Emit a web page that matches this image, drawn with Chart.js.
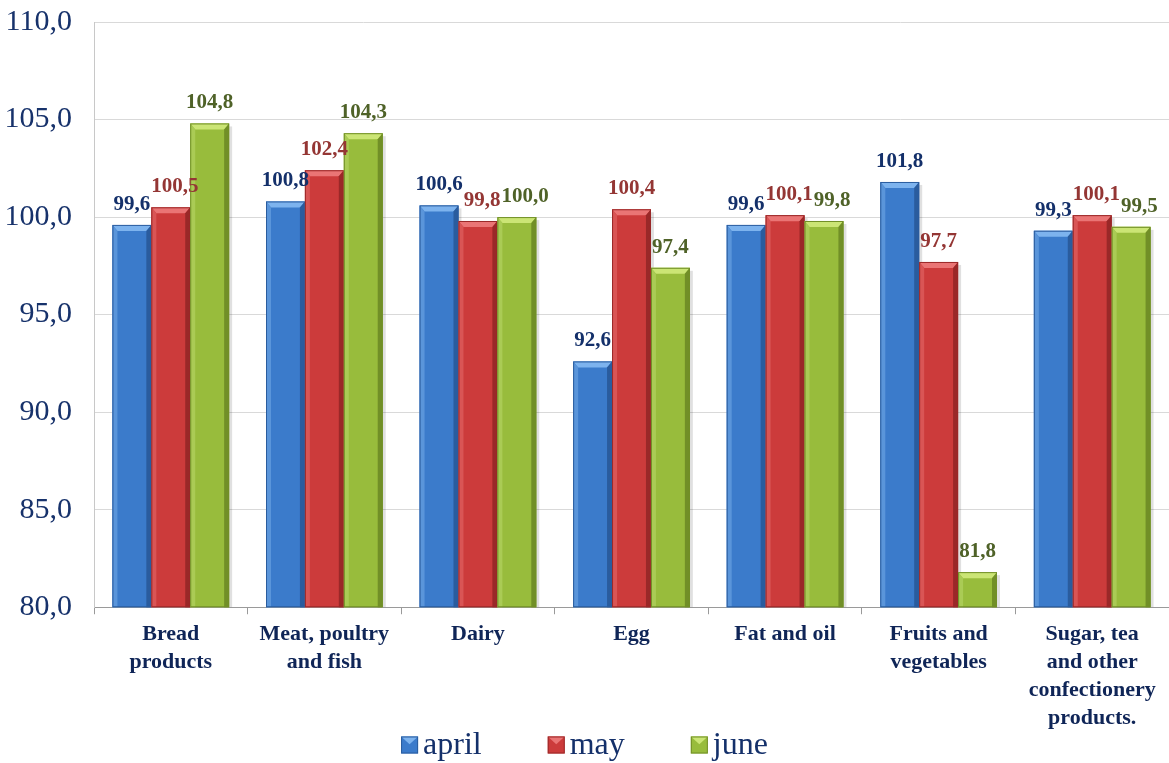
<!DOCTYPE html>
<html>
<head>
<meta charset="utf-8">
<script src="https://cdn.jsdelivr.net/npm/chart.js@4.4.1/dist/chart.umd.min.js"></script>
<style>
html,body{margin:0;padding:0;background:#fff;}
#wrap{width:1169px;height:763px;position:relative;}
</style>
</head>
<body>
<div id="wrap"><canvas id="c" width="1169" height="763"></canvas></div>
<script>
const categories = [
  ["Bread","products"],
  ["Meat, poultry","and fish"],
  ["Dairy"],
  ["Egg"],
  ["Fat and oil"],
  ["Fruits and","vegetables"],
  ["Sugar, tea","and other","confectionery","products."]
];
const seriesNames = ["april","may","june"];
const aprilValues = [99.6, 100.8, 100.6, 92.6, 99.6, 101.8, 99.3];
const mayValues   = [100.5, 102.4, 99.8, 100.4, 100.1, 97.7, 100.1];
const juneValues  = [104.8, 104.3, 100.0, 97.4, 99.8, 81.8, 99.5];
const yMin = 80, yMax = 110, yStep = 5;

const barColors = [
  {base:'#3B7BCB', top:'#7DB3EE', left:'#5A95DA', right:'#2A5C9E'},
  {base:'#CC3B3B', top:'#EA7575', left:'#D95555', right:'#9A2828'},
  {base:'#98BC3C', top:'#CBE575', left:'#AACB55', right:'#718F27'}
];
const labelColors = ['#14306A','#943634','#4F6228'];
const legendTextColor = '#14306A';
const serif = "'Liberation Serif','Times New Roman',serif";

function fmt(v){ return v.toFixed(1).replace('.',','); }

const bevelPlugin = {
  id:'bevel',
  beforeDatasetsDraw(chart){
    const ctx = chart.ctx, area = chart.chartArea;
    ctx.save();
    ctx.beginPath(); ctx.rect(area.left, area.top - 20, area.right - area.left + 10, area.bottom - area.top + 20); ctx.clip();
    chart.data.datasets.forEach((ds,di)=>{
      chart.getDatasetMeta(di).data.forEach(el=>{
        const l = el.x - el.width/2, r = el.x + el.width/2, t = el.y, b = Math.min(el.base, area.bottom);
        ctx.fillStyle = 'rgba(0,0,0,0.12)';
        ctx.fillRect(l+3, t+3, r-l, b-t-3);
      });
    });
    ctx.restore();
  },
  afterDatasetsDraw(chart){
    const ctx = chart.ctx, area = chart.chartArea;
    chart.data.datasets.forEach((ds,di)=>{
      const meta = chart.getDatasetMeta(di);
      const c = barColors[di];
      meta.data.forEach(el=>{
        const l = el.x - el.width/2, r = el.x + el.width/2, t = el.y, b = Math.min(el.base, area.bottom);
        const h = b - t, bw = Math.min(6, h/2), sw = 5;
        ctx.save();
        ctx.fillStyle = c.top;
        ctx.beginPath(); ctx.moveTo(l,t); ctx.lineTo(r,t); ctx.lineTo(r-sw,t+bw); ctx.lineTo(l+sw,t+bw); ctx.closePath(); ctx.fill();
        ctx.fillStyle = c.left;
        ctx.beginPath(); ctx.moveTo(l,t); ctx.lineTo(l+sw,t+bw); ctx.lineTo(l+sw,b); ctx.lineTo(l,b); ctx.closePath(); ctx.fill();
        ctx.fillStyle = c.right;
        ctx.beginPath(); ctx.moveTo(r,t); ctx.lineTo(r-sw,t+bw); ctx.lineTo(r-sw,b); ctx.lineTo(r,b); ctx.closePath(); ctx.fill();
        ctx.strokeStyle = c.right; ctx.lineWidth = 1;
        ctx.strokeRect(l+0.5,t+0.5,r-l-1,h-1);
        ctx.restore();
      });
    });
    ctx.save();
    ctx.font = "bold 21px " + serif;
    ctx.textAlign = 'center';
    ctx.textBaseline = 'alphabetic';
    const n = chart.data.labels.length;
    for(let i=0;i<n;i++){
      let prev = null;
      chart.data.datasets.forEach((ds,di)=>{
        const el = chart.getDatasetMeta(di).data[i];
        const txt = fmt(ds.data[i]);
        const w = ctx.measureText(txt).width;
        let x = el.x, y = el.y - 15;
        if(prev && Math.abs(prev.y - y) < 18 && (x - w/2) < prev.r){
          x = prev.r + w/2 + 1;
        }
        ctx.fillStyle = labelColors[di];
        ctx.fillText(txt, x, y);
        prev = {r:x + w/2, y:y};
      });
    }
    ctx.restore();

    ctx.save();
    ctx.font = "32px " + serif;
    ctx.textBaseline = 'middle';
    ctx.textAlign = 'left';
    const box = 17, gapBoxText = 5, gapItems = 66;
    const items = chart.data.datasets.map((ds,i)=>({text:ds.label, w:ctx.measureText(ds.label).width, c:barColors[i]}));
    let total = items.reduce((s,it)=>s+box+gapBoxText+it.w,0) + gapItems*(items.length-1);
    let x = chart.width/2 - total/2;
    const yc = chart.height - 18;
    items.forEach(it=>{
      const bx = x, by = yc - box/2;
      ctx.fillStyle = it.c.base; ctx.fillRect(bx,by,box,box);
      ctx.fillStyle = it.c.top;
      ctx.beginPath(); ctx.moveTo(bx,by); ctx.lineTo(bx+box,by); ctx.lineTo(bx+box/2,by+box*0.45); ctx.closePath(); ctx.fill();
      ctx.strokeStyle = it.c.right; ctx.lineWidth = 1; ctx.strokeRect(bx+0.5,by+0.5,box-1,box-1);
      ctx.fillStyle = legendTextColor;
      ctx.fillText(it.text, x + box + gapBoxText, yc + 1);
      x += box + gapBoxText + it.w + gapItems;
    });
    ctx.restore();
  }
};

Chart.defaults.font.family = serif;
const ctx = document.getElementById('c').getContext('2d');
const chart = new Chart(ctx,{
  type:'bar',
  data:{
    labels:categories,
    datasets:[
      {label:seriesNames[0], data:aprilValues, backgroundColor:barColors[0].base},
      {label:seriesNames[1], data:mayValues, backgroundColor:barColors[1].base},
      {label:seriesNames[2], data:juneValues, backgroundColor:barColors[2].base}
    ]
  },
  options:{
    responsive:false,
    animation:false,
    devicePixelRatio:1,
    layout:{padding:{top:22,right:0,left:0,bottom:25}},
    datasets:{bar:{categoryPercentage:0.76, barPercentage:1.0, borderWidth:0}},
    plugins:{
      tooltip:{enabled:false},
      legend:{display:false}
    },
    scales:{
      x:{
        grid:{drawOnChartArea:false, drawTicks:true, tickLength:7, color:'#9A9A9A', offset:true},
        border:{display:true, color:'#9A9A9A', width:1},
        ticks:{color:'#0F2557', font:{size:22, weight:'bold', family:serif, lineHeight:1.27}, maxRotation:0, autoSkip:false, padding:6}
      },
      y:{
        min:yMin, max:yMax,
        afterFit(scale){ scale.width = 94; scale.paddingTop = 0; scale.paddingBottom = 0; },
        grid:{color:'#D9D9D9', drawTicks:false},
        border:{display:true, color:'#C8C8C8'},
        ticks:{stepSize:yStep, color:'#17326B', font:{size:30, family:serif}, padding:22, callback:(v)=>fmt(v)}
      }
    }
  },
  plugins:[bevelPlugin]
});
</script>
</body>
</html>
